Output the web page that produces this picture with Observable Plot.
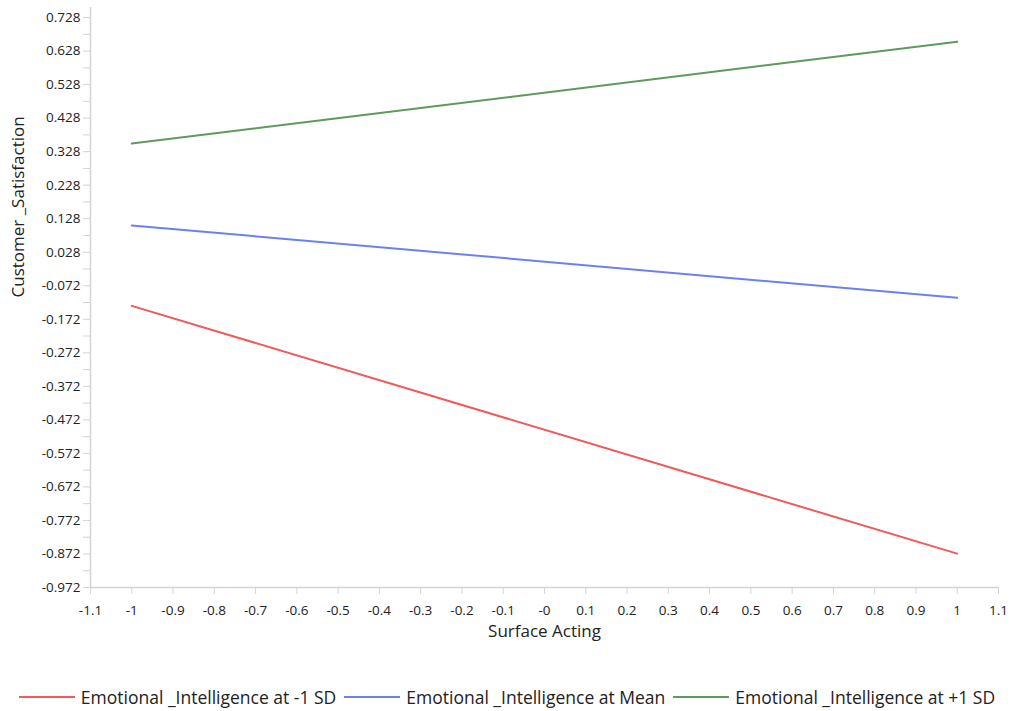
<!DOCTYPE html>
<html>
<head>
<meta charset="utf-8">
<script src="https://cdn.jsdelivr.net/npm/d3@7"></script>
<script src="https://cdn.jsdelivr.net/npm/@observablehq/plot@0.6"></script>
<style>
  body { margin: 0; background: #fff; font-family: "Open Sans", sans-serif; }
  #legend { display: flex; justify-content: center; align-items: center; height: 26px; margin-top: 24px; font-size: 17.5px; color: #222; white-space: nowrap; }
  .item { display: flex; align-items: center; margin: 0 4px; }
  .sw { width: 56px; height: 2px; margin-right: 6px; }
</style>
</head>
<body>
<div id="chart"></div>
<div id="legend"></div>
<script>
const seriesNames = ["Emotional _Intelligence at -1 SD", "Emotional _Intelligence at Mean", "Emotional _Intelligence at +1 SD"];
const seriesColors = ["#ef5a5a", "#6b82ee", "#5e9a5c"];
const surfaceActing = [-1, 1];
const lowSD = [-0.132, -0.871];
const meanSD = [0.108, -0.108];
const highSD = [0.352, 0.656];
const xTicks = [-1.1, -1, -0.9, -0.8, -0.7, -0.6, -0.5, -0.4, -0.3, -0.2, -0.1, 0, 0.1, 0.2, 0.3, 0.4, 0.5, 0.6, 0.7, 0.8, 0.9, 1, 1.1];
const xTickLabels = ["-1.1", "-1", "-0.9", "-0.8", "-0.7", "-0.6", "-0.5", "-0.4", "-0.3", "-0.2", "-0.1", "-0", "0.1", "0.2", "0.3", "0.4", "0.5", "0.6", "0.7", "0.8", "0.9", "1", "1.1"];
const yTicks = [0.728, 0.628, 0.528, 0.428, 0.328, 0.228, 0.128, 0.028, -0.072, -0.172, -0.272, -0.372, -0.472, -0.572, -0.672, -0.772, -0.872, -0.972];
const yTickLabels = ["0.728", "0.628", "0.528", "0.428", "0.328", "0.228", "0.128", "0.028", "-0.072", "-0.172", "-0.272", "-0.372", "-0.472", "-0.572", "-0.672", "-0.772", "-0.872", "-0.972"];
const yMinor = [0.678, 0.578, 0.478, 0.378, 0.278, 0.178, 0.078, -0.022, -0.122, -0.222, -0.322, -0.422, -0.522, -0.622, -0.722, -0.822, -0.922];

const allSeries = [lowSD, meanSD, highSD];
const rows = [];
allSeries.forEach((vals, i) => vals.forEach((v, j) => rows.push({x: surfaceActing[j], y: v, s: seriesNames[i]})));

const gridColor = "#d4d4d4";
const chart = Plot.plot({
  width: 1014,
  height: 660,
  marginLeft: 90,
  marginRight: 16,
  marginTop: 7,
  marginBottom: 73,
  style: {fontFamily: "'Open Sans', sans-serif", fontSize: "13.5px", color: "#222", background: "#fff"},
  x: {domain: [-1.1, 1.1]},
  y: {domain: [-0.972, 0.758]},
  color: {domain: seriesNames, range: seriesColors},
  marks: [
    Plot.ruleX([-1.1], {stroke: gridColor, strokeWidth: 1.5}),
    Plot.ruleY([-0.972], {stroke: gridColor, strokeWidth: 1.5}),
    Plot.axisY(yTicks, {tickSize: 7, tickPadding: 3, stroke: gridColor, tickFormat: d => yTickLabels[yTicks.indexOf(d)], label: null, fill: "#222"}),
    Plot.axisY(yMinor, {tickSize: 7, stroke: gridColor, tickFormat: () => "", label: null}),
    Plot.axisX(xTicks, {tickSize: 7, tickPadding: 11, stroke: gridColor, tickFormat: d => xTickLabels[xTicks.indexOf(d)], label: null, fill: "#222"}),
    Plot.text(["Surface Acting"], {frameAnchor: "bottom", dy: 49, fontSize: 17, fill: "#222"}),
    Plot.text(["Customer _Satisfaction"], {frameAnchor: "left", dx: -72, rotate: -90, fontSize: 17, fill: "#222"}),
    Plot.line(rows, {x: "x", y: "y", z: "s", stroke: "s", strokeWidth: 2})
  ]
});
document.getElementById("chart").append(chart);

const legend = document.getElementById("legend");
seriesNames.forEach((n, i) => {
  const it = document.createElement("div");
  it.className = "item";
  const sw = document.createElement("div");
  sw.className = "sw";
  sw.style.background = seriesColors[i];
  const t = document.createElement("span");
  t.textContent = n;
  it.append(sw, t);
  legend.append(it);
});
</script>
</body>
</html>
